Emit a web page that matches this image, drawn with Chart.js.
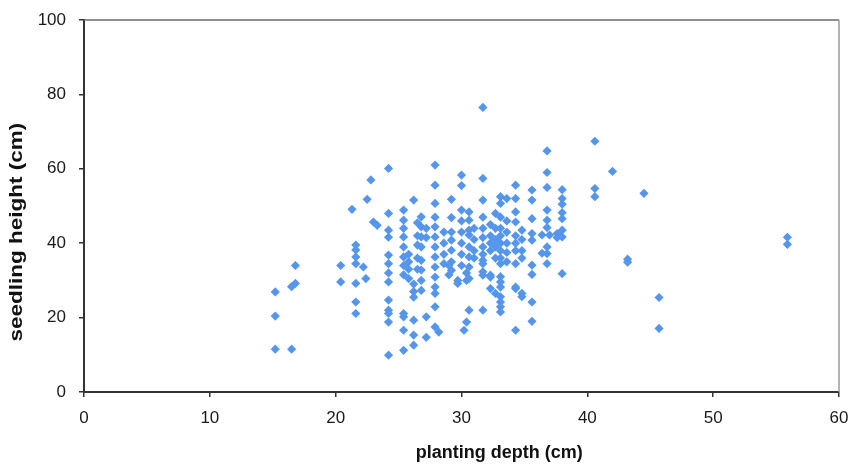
<!DOCTYPE html>
<html>
<head>
<meta charset="utf-8">
<script src="https://cdn.jsdelivr.net/npm/chart.js@4.4.0/dist/chart.umd.min.js"></script>
<style>
  html,body{margin:0;padding:0;background:#fff;}
  #wrap{width:855px;height:464px;position:relative;}
</style>
</head>
<body>
<div id="wrap"><canvas id="chart"></canvas></div>
<script>
// planting depth columns (cm) and seedling heights read at each depth (cm)
const depths=[15.2,16.5,16.8,20.4,21.3,21.6,22.2,22.4,22.5,22.8,23.0,23.3,24.2,25.4,25.8,26.2,26.5,26.8,27.2,27.9,28.2,28.6,29.0,29.2,29.7,30.0,30.2,30.4,30.6,31.0,31.7,32.3,32.7,33.1,33.6,34.3,34.8,35.6,36.4,36.8,37.0,37.6,38.0,40.6,42.0,43.2,44.5,45.7,55.9];
const heightsAtDepth=[
  [26.9,20.4,11.5],
  [11.5,28.3],
  [29.2,34.0],
  [34.0,29.6],
  [49.1],
  [39.5,38.2,36.3,34.5,29.2,24.2,21.1],
  [33.6],
  [30.5],
  [51.8],
  [57.0],
  [45.7],
  [44.8],
  [60.1,48.0,43.5,41.6,36.8,34.5,32.0,29.6,24.7,22.0,21.1,18.8,9.9],
  [48.9,46.2,44.0,41.7,39.0,36.3,34.0,31.5,21.1,20.2,16.6,11.2],
  [37.0,35.0,33.0,30.5],
  [51.6,29.0,27.0,25.5,19.3,15.3,12.6],
  [45.5,42.0,39.5,36.0,33.0],
  [47.1,44.4,41.7,39.0,35.4,32.8,30.0,27.3],
  [44.0,41.5,20.2,14.7],
  [61.0,55.6,50.7,47.0,44.4,41.7,39.0,36.3,33.6,30.9,28.2,26.5,22.9,17.5],
  [16.1],
  [43.0,40.0,37.0,34.5],
  [34.0,31.5],
  [51.8,46.9,43.0,40.8,38.1,35.0,32.7],
  [30.0,29.2],
  [58.3,55.5,48.9,46.0,43.0,40.0,37.0,34.0],
  [16.6],
  [32.0,30.0,18.8],
  [48.4,46.2,43.5,42.2,39.0,36.3,33.6,30.5,22.0],
  [44.0,41.0,38.0,36.0],
  [76.5,57.4,51.6,47.0,44.0,41.5,39.0,37.0,35.4,34.5,32.3,31.4,22.0],
  [45.0,42.0,40.0,38.0,31.4,30.9,27.8],
  [48.0,44.0,41.0,39.0,36.0,26.5],
  [52.5,50.7,47.0,44.0,42.0,40.0,38.0,36.0,34.5,31.0,29.6,28.2,25.6,24.2,22.9,21.5],
  [52.0,46.0,43.0,40.0,37.5,35.0],
  [55.6,52.0,48.4,45.7,42.0,40.0,38.0,34.5,28.2,27.8,16.6],
  [43.5,41.0,38.0,36.0,26.5,25.6],
  [54.3,51.6,46.6,42.6,40.8,34.1,31.6,24.2,19.0],
  [42.2,37.3],
  [64.8,59.0,55.0,48.9,46.2,44.2,39.0,37.2,34.5],
  [42.2],
  [42.6,41.5],
  [54.4,52.0,50.5,48.2,46.6,43.5,41.7,31.8],
  [67.4,54.7,52.5],
  [59.3],
  [35.7,34.9],
  [53.4],
  [25.4,17.1],
  [41.6,39.7]
];
const xTicks=[0,10,20,30,40,50,60];
const yTicks=[0,20,40,60,80,100];
const xTitle='planting depth (cm)';
const yTitle='seedling height (cm)';

let points=[];
depths.forEach((d,i)=>{
  heightsAtDepth[i].forEach(h=>points.push({x:d,y:h}));
});

// top + right frame lines and the two axis titles (x title sits right of centre in the original,
// the y title is drawn a bit longer because the source image is stretched vertically)
const framePlugin={
  id:'frame',
  afterDraw(chart){
    const a=chart.chartArea, ctx=chart.ctx;
    ctx.save();
    ctx.lineWidth=1.5;
    ctx.strokeStyle='#6a6a6a';
    ctx.beginPath();ctx.moveTo(a.left,a.top);ctx.lineTo(a.right,a.top);ctx.stroke();
    ctx.strokeStyle='#9a9a9a';
    ctx.beginPath();ctx.moveTo(a.right,a.top);ctx.lineTo(a.right,a.bottom);ctx.stroke();

    ctx.fillStyle='#111';
    ctx.font='bold 18px "Liberation Sans", Arial, sans-serif';
    ctx.textAlign='center';
    ctx.textBaseline='middle';
    ctx.fillText(xTitle,a.left+(a.right-a.left)*0.55,453);
    ctx.translate(17,a.top+(a.bottom-a.top)*0.57);
    ctx.rotate(-Math.PI/2);
    ctx.scale(1.25,1);
    ctx.fillText(yTitle,0,0);
    ctx.restore();
  }
};

const tickFont={family:'"Liberation Sans", Arial, sans-serif',size:17};

new Chart(document.getElementById('chart'),{
  type:'scatter',
  data:{datasets:[{
    label:'seedlings',
    data:points,
    pointStyle:'rectRot',
    pointRadius:4.6,
    pointHoverRadius:4.6,
    backgroundColor:'#5596ec',
    borderColor:'#5596ec',
    borderWidth:0
  }]},
  options:{
    responsive:true,
    maintainAspectRatio:false,
    animation:false,
    layout:{padding:{top:20,right:16,left:0,bottom:0}},
    plugins:{legend:{display:false},tooltip:{enabled:false}},
    scales:{
      x:{
        type:'linear',min:0,max:60,
        afterBuildTicks:s=>{s.ticks=xTicks.map(v=>({value:v}));},
        afterFit:s=>{s.height=72;s.paddingLeft=0;s.paddingRight=0;},
        grid:{display:true,drawOnChartArea:false,drawTicks:true,tickLength:5,color:'#333',lineWidth:1.5},
        border:{display:true,color:'#333',width:2},
        ticks:{color:'#1a1a1a',font:tickFont,padding:11},
        title:{display:false}
      },
      y:{
        type:'linear',min:0,max:100,
        afterBuildTicks:s=>{s.ticks=yTicks.map(v=>({value:v}));},
        afterFit:s=>{s.width=84;s.paddingTop=0;s.paddingBottom=0;},
        grid:{display:true,drawOnChartArea:false,drawTicks:true,tickLength:5,color:'#333',lineWidth:1.5},
        border:{display:true,color:'#333',width:2},
        ticks:{color:'#1a1a1a',font:tickFont,padding:13},
        title:{display:false}
      }
    }
  },
  plugins:[framePlugin]
});
</script>
</body>
</html>
